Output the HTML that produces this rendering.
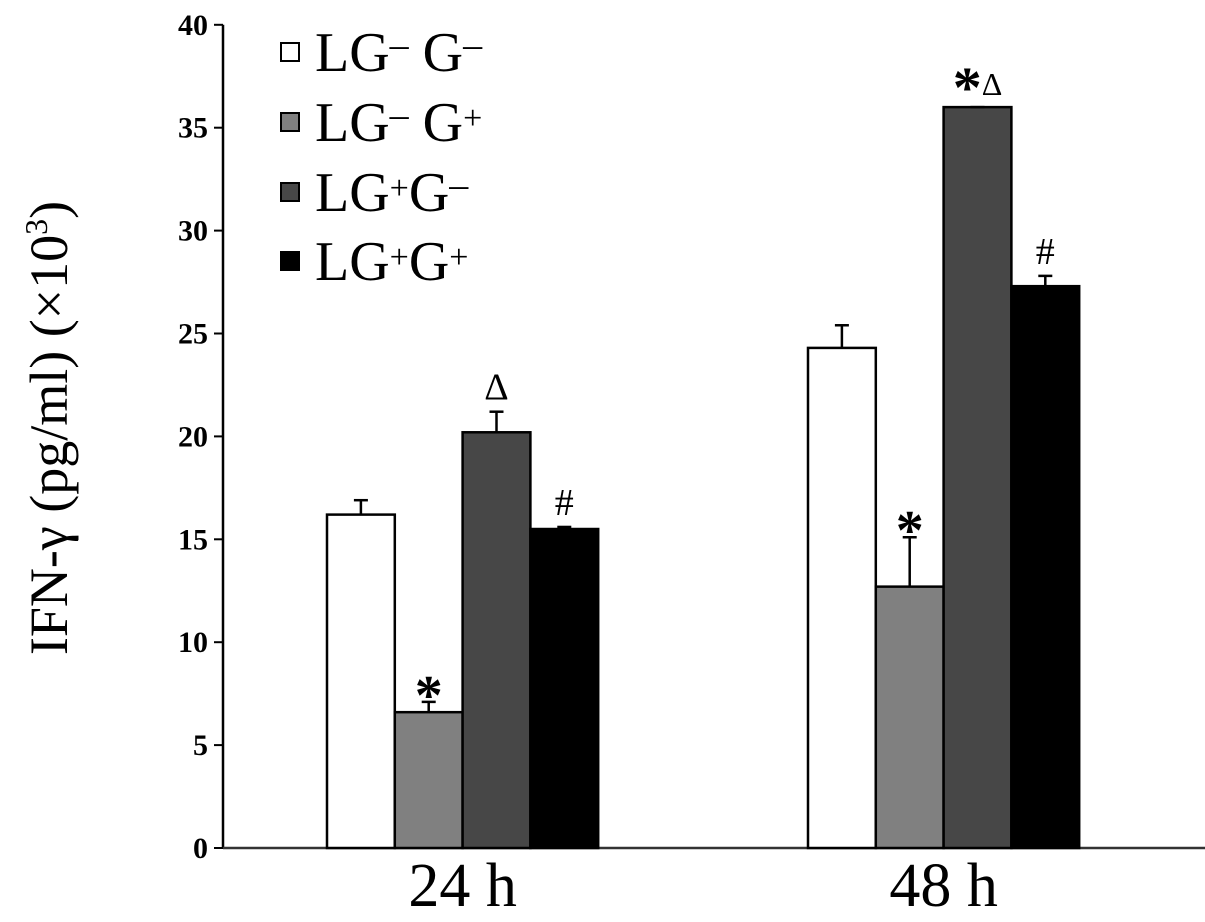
<!DOCTYPE html>
<html><head><meta charset="utf-8"><style>
html,body{margin:0;padding:0;background:#fff;}
svg{display:block;font-family:"Liberation Serif",serif;}
</style></head><body>
<svg id="chart" width="1205" height="922" viewBox="0 0 1205 922" xmlns="http://www.w3.org/2000/svg">
<g id="axes"></g><g id="bars"></g><g id="legend"></g>
</svg>
<script>
const categories = ["24 h", "48 h"];
const seriesNames = ["LG- G-", "LG- G+", "LG+ G-", "LG+ G+"];
const s1 = [16.2, 24.3];
const s2 = [6.6, 12.7];
const s3 = [20.2, 36.0];
const s4 = [15.5, 27.3];
const e1 = [0.7, 1.1];
const e2 = [0.5, 2.4];
const e3 = [1.0, 0.0];
const e4 = [0.1, 0.5];
const marks1 = ["", ""];
const marks2 = ["*", "*"];
const marks3 = ["Δ", "*Δ"];
const marks4 = ["#", "#"];
const yTicks = [0, 5, 10, 15, 20, 25, 30, 35, 40];

const NS = "http://www.w3.org/2000/svg";
const fills = ["#ffffff", "#808080", "#474747", "#000000"];
const values = [s1, s2, s3, s4];
const errs = [e1, e2, e3, e4];
const marks = [marks1, marks2, marks3, marks4];
const y0 = 848, pxPerUnit = 20.58, axisX = 223, xEnd = 1205;
const groupStart = [327, 808], barW = 67.8;
function yScale(v){ return y0 - v * pxPerUnit; }
function xBar(ci, si){ return groupStart[ci] + si * barW; }
function mk(tag, attrs, parent){ const e=document.createElementNS(NS,tag); for(const k in attrs) e.setAttribute(k, attrs[k]); parent.appendChild(e); return e; }

const axes = document.getElementById("axes");
let a = mk("line",{x1:axisX,y1:yScale(40),x2:axisX,y2:y0,stroke:"#000","stroke-width":2.5},axes);
 
a = mk("line",{x1:axisX,y1:y0,x2:xEnd,y2:y0,stroke:"#333","stroke-width":2.5},axes);
 
yTicks.forEach(t=>{
  const tk = mk("line",{x1:axisX-9,y1:yScale(t),x2:axisX,y2:yScale(t),stroke:"#000","stroke-width":2},axes);
   
  const tl = mk("text",{x:axisX-15,y:yScale(t)+10,"text-anchor":"end","font-size":30,"font-weight":"bold"},axes);
  tl.textContent = t;
   
});
const title = mk("text",{x:0,y:0,transform:"translate(67,428) rotate(-90)","text-anchor":"middle","font-size":54},axes);
title.innerHTML = 'IFN-γ (pg/ml) (×10<tspan dy="-20" font-size="32">3</tspan><tspan dy="20">)</tspan>';
 
categories.forEach((c,ci)=>{
  const t = mk("text",{x:groupStart[ci]+2*barW,y:906,"text-anchor":"middle","font-size":62},axes);
  t.textContent = c;
   
});

const bars = document.getElementById("bars");
categories.forEach((c,ci)=>{
  values.forEach((ser,si)=>{
    const v = ser[ci], x = xBar(ci,si), top = yScale(v);
    const r = mk("rect",{x:x,y:top,width:barW,height:y0-top,fill:fills[si],stroke:"#000","stroke-width":2.5},bars);
     
    const cx = x + barW/2, et = yScale(v + errs[si][ci]);
    const eg = mk("g",{stroke:"#000","stroke-width":2.5},bars);
     
    mk("line",{x1:cx,y1:top,x2:cx,y2:et},eg);
    mk("line",{x1:cx-7,y1:et,x2:cx+7,y2:et},eg);
    const m = marks[si][ci];
    if(m){
      const mt = mk("text",{x:cx,y:et-12,"text-anchor":"middle","font-size":m.indexOf("*")>=0?56:38},bars);
      if(m==="*Δ"){ mt.innerHTML='<tspan font-size="58" font-weight="bold" dy="12">*</tspan><tspan font-size="32" dy="-12">Δ</tspan>'; }
      else if(m==="*"){ mt.setAttribute('y', et-12+24); mt.setAttribute('font-weight','bold'); mt.textContent = m; }
      else mt.textContent = m;
       
    }
  });
});

const legend = document.getElementById("legend");
const legHTML = [
  'LG<tspan dy="-14" font-size="38">‒</tspan><tspan dy="14"> G</tspan><tspan dy="-14" font-size="38">‒</tspan>',
  'LG<tspan dy="-14" font-size="38">‒</tspan><tspan dy="14"> G</tspan><tspan dy="-12" font-size="34">+</tspan>',
  'LG<tspan dy="-12" font-size="34">+</tspan><tspan dy="12">G</tspan><tspan dy="-14" font-size="38">‒</tspan>',
  'LG<tspan dy="-12" font-size="34">+</tspan><tspan dy="12">G</tspan><tspan dy="-12" font-size="34">+</tspan>'];
const legY = [52, 122, 192, 261];
seriesNames.forEach((n,i)=>{
  const g = mk("g",{},legend);
   
  mk("rect",{x:281,y:legY[i]-9,width:18,height:18,fill:fills[i],stroke:"#000","stroke-width":2},g);
  const t = mk("text",{x:315,y:legY[i]+19,"font-size":56},g);
  t.innerHTML = legHTML[i];
});
</script>
</body></html>
